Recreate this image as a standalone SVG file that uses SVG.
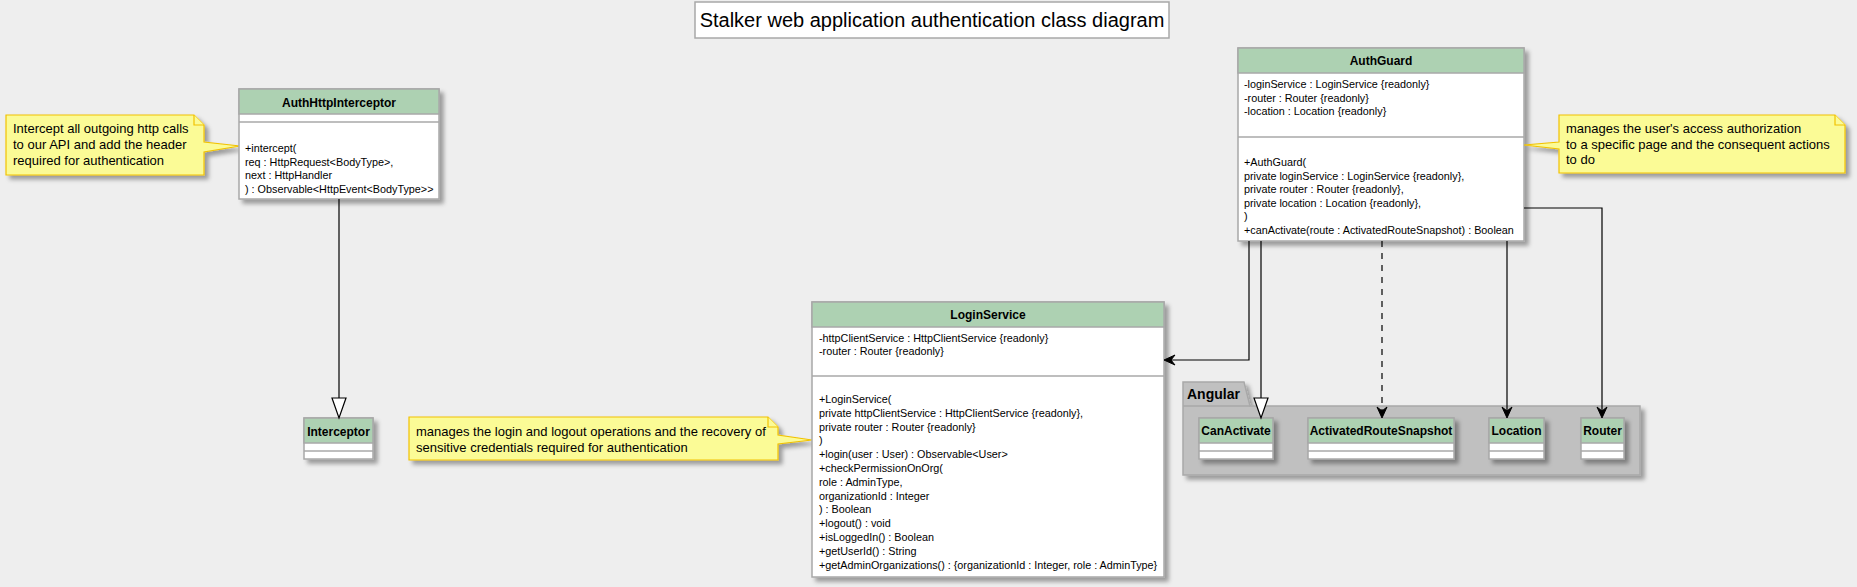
<svg xmlns="http://www.w3.org/2000/svg" width="1857" height="587" viewBox="0 0 1857 587">
<defs>
<filter id="sh" x="-10%" y="-10%" width="130%" height="130%">
<feDropShadow dx="4" dy="4" stdDeviation="2" flood-color="#000" flood-opacity="0.35"/>
</filter>
<style>
text{font-family:"Liberation Sans",Arial,sans-serif;fill:#000}
.hd{fill:#ADD1B2;stroke:#A8A8A8;stroke-width:1.5}
.bd{fill:#FFFFFF;stroke:#A8A8A8;stroke-width:1.5}
.sep{stroke:#A8A8A8;stroke-width:1.5;fill:none}
.cn{font-size:12px;font-weight:bold;text-anchor:middle}
.mb{font-size:10.8px}
.note{fill:#FBFB96;stroke:#F2C200;stroke-width:1.2}
.nt{font-size:13px}
.ln{stroke:#000;stroke-width:1.2;fill:none}
.dash{stroke-dasharray:6,6}
.tri{fill:#FFFFFF;stroke:#000;stroke-width:1.2}
.ah{fill:#000;stroke:#000;stroke-width:1}
.pkg{fill:#C0C0C0;stroke:#A8A8A8;stroke-width:1.5}
</style>
</defs>
<rect width="1857" height="587" fill="#EEEEEE"/>

<g id="title">
<rect x="695" y="2" width="474" height="36" fill="#FFFFFF" stroke="#A8A8A8" stroke-width="1.5"/>
<text x="932" y="27" font-size="20" text-anchor="middle">Stalker web application authentication class diagram</text>
</g>

<g id="pkg-angular">
<path class="pkg" filter="url(#sh)" d="M1183,382 H1244 L1250,406 H1640 V475 H1183 Z"/>
<line class="sep" x1="1183" y1="406" x2="1250" y2="406"/>
<text x="1187" y="399" font-size="14" font-weight="bold">Angular</text>
</g>

<g id="note-interceptor">
<path class="note" filter="url(#sh)" d="M6,115 H194 L204,125 V142 L240,146 L204,152 V175 H6 Z"/>
<path class="note" d="M194,115 V125 H204"/>
<text class="nt" x="13" y="133">Intercept all outgoing http calls</text>
<text class="nt" x="13" y="149">to our API and add the header</text>
<text class="nt" x="13" y="165">required for authentication</text>
</g>

<g id="AuthHttpInterceptor">
<g filter="url(#sh)">
<rect class="bd" x="239" y="89" width="200" height="110"/>
</g>
<rect class="hd" x="239" y="89" width="200" height="25"/>
<line class="sep" x1="239" y1="122" x2="439" y2="122"/>
<text class="cn" x="339" y="107">AuthHttpInterceptor</text>
<text class="mb" x="245" y="152">+intercept(</text>
<text class="mb" x="245" y="165.5">req : HttpRequest&lt;BodyType&gt;,</text>
<text class="mb" x="245" y="179">next : HttpHandler</text>
<text class="mb" x="245" y="192.5">) : Observable&lt;HttpEvent&lt;BodyType&gt;&gt;</text>
</g>

<g id="Interceptor">
<g filter="url(#sh)">
<rect class="bd" x="304" y="418" width="69" height="41"/>
</g>
<rect class="hd" x="304" y="418" width="69" height="25"/>
<line class="sep" x1="304" y1="451" x2="373" y2="451"/>
<text class="cn" x="338.5" y="436">Interceptor</text>
</g>

<g id="note-loginservice">
<path class="note" filter="url(#sh)" d="M409,417 H768 L778,427 V435 L812,440 L778,444 V460 H409 Z"/>
<path class="note" d="M768,417 V427 H778"/>
<text class="nt" x="416" y="436">manages the login and logout operations and the recovery of</text>
<text class="nt" x="416" y="452">sensitive credentials required for authentication</text>
</g>

<g id="LoginService">
<g filter="url(#sh)">
<rect class="bd" x="812" y="302" width="352" height="275"/>
</g>
<rect class="hd" x="812" y="302" width="352" height="25"/>
<line class="sep" x1="812" y1="376" x2="1164" y2="376"/>
<text class="cn" x="988" y="319">LoginService</text>
<text class="mb" x="819" y="342">-httpClientService : HttpClientService {readonly}</text>
<text class="mb" x="819" y="355">-router : Router {readonly}</text>
<text class="mb" x="819" y="403">+LoginService(</text>
<text class="mb" x="819" y="416.8">private httpClientService : HttpClientService {readonly},</text>
<text class="mb" x="819" y="430.6">private router : Router {readonly}</text>
<text class="mb" x="819" y="444.4">)</text>
<text class="mb" x="819" y="458.2">+login(user : User) : Observable&lt;User&gt;</text>
<text class="mb" x="819" y="472">+checkPermissionOnOrg(</text>
<text class="mb" x="819" y="485.8">role : AdminType,</text>
<text class="mb" x="819" y="499.6">organizationId : Integer</text>
<text class="mb" x="819" y="513.4">) : Boolean</text>
<text class="mb" x="819" y="527.2">+logout() : void</text>
<text class="mb" x="819" y="541">+isLoggedIn() : Boolean</text>
<text class="mb" x="819" y="554.8">+getUserId() : String</text>
<text class="mb" x="819" y="568.6">+getAdminOrganizations() : {organizationId : Integer, role : AdminType}</text>
</g>

<g id="AuthGuard">
<g filter="url(#sh)">
<rect class="bd" x="1238" y="48" width="286" height="193"/>
</g>
<rect class="hd" x="1238" y="48" width="286" height="25"/>
<line class="sep" x1="1238" y1="137" x2="1524" y2="137"/>
<text class="cn" x="1381" y="65">AuthGuard</text>
<text class="mb" x="1244" y="88">-loginService : LoginService {readonly}</text>
<text class="mb" x="1244" y="101.5">-router : Router {readonly}</text>
<text class="mb" x="1244" y="115">-location : Location {readonly}</text>
<text class="mb" x="1244" y="166">+AuthGuard(</text>
<text class="mb" x="1244" y="179.5">private loginService : LoginService {readonly},</text>
<text class="mb" x="1244" y="193">private router : Router {readonly},</text>
<text class="mb" x="1244" y="206.5">private location : Location {readonly},</text>
<text class="mb" x="1244" y="220">)</text>
<text class="mb" x="1244" y="233.5">+canActivate(route : ActivatedRouteSnapshot) : Boolean</text>
</g>

<g id="note-authguard">
<path class="note" filter="url(#sh)" d="M1559,115 H1835 L1845,125 V173 H1559 V149 L1524,145 L1559,142 Z"/>
<path class="note" d="M1835,115 V125 H1845"/>
<text class="nt" x="1566" y="133">manages the user's access authorization</text>
<text class="nt" x="1566" y="148.5">to a specific page and the consequent actions</text>
<text class="nt" x="1566" y="164">to do</text>
</g>

<g id="CanActivate">
<g filter="url(#sh)">
<rect class="bd" x="1199" y="418" width="74" height="41"/>
</g>
<rect class="hd" x="1199" y="418" width="74" height="25"/>
<line class="sep" x1="1199" y1="451" x2="1273" y2="451"/>
<text class="cn" x="1236" y="435">CanActivate</text>
</g>

<g id="ActivatedRouteSnapshot">
<g filter="url(#sh)">
<rect class="bd" x="1308" y="418" width="146" height="41"/>
</g>
<rect class="hd" x="1308" y="418" width="146" height="25"/>
<line class="sep" x1="1308" y1="451" x2="1454" y2="451"/>
<text class="cn" x="1381" y="435">ActivatedRouteSnapshot</text>
</g>

<g id="Location">
<g filter="url(#sh)">
<rect class="bd" x="1489" y="418" width="55" height="41"/>
</g>
<rect class="hd" x="1489" y="418" width="55" height="25"/>
<line class="sep" x1="1489" y1="451" x2="1544" y2="451"/>
<text class="cn" x="1516.5" y="435">Location</text>
</g>

<g id="Router">
<g filter="url(#sh)">
<rect class="bd" x="1581" y="418" width="43" height="41"/>
</g>
<rect class="hd" x="1581" y="418" width="43" height="25"/>
<line class="sep" x1="1581" y1="451" x2="1624" y2="451"/>
<text class="cn" x="1602.5" y="435">Router</text>
</g>

<g id="connectors">
<line class="ln" x1="339" y1="199" x2="339" y2="398"/>
<polygon class="tri" points="332,398 346,398 339,418"/>

<path class="ln" d="M1249,241 V360 H1166"/>
<polygon class="ah" points="1164,360 1175,355 1171,360 1175,365"/>

<line class="ln" x1="1261" y1="241" x2="1261" y2="398"/>
<polygon class="tri" points="1254,398 1268,398 1261,418"/>

<line class="ln dash" x1="1382" y1="241" x2="1382" y2="416"/>
<polygon class="ah" points="1382,418 1377,407 1382,411 1387,407"/>

<line class="ln" x1="1507" y1="241" x2="1507" y2="416"/>
<polygon class="ah" points="1507,418 1502,407 1507,411 1512,407"/>

<path class="ln" d="M1524,208 H1602 V416"/>
<polygon class="ah" points="1602,418 1597,407 1602,411 1607,407"/>
</g>
</svg>
